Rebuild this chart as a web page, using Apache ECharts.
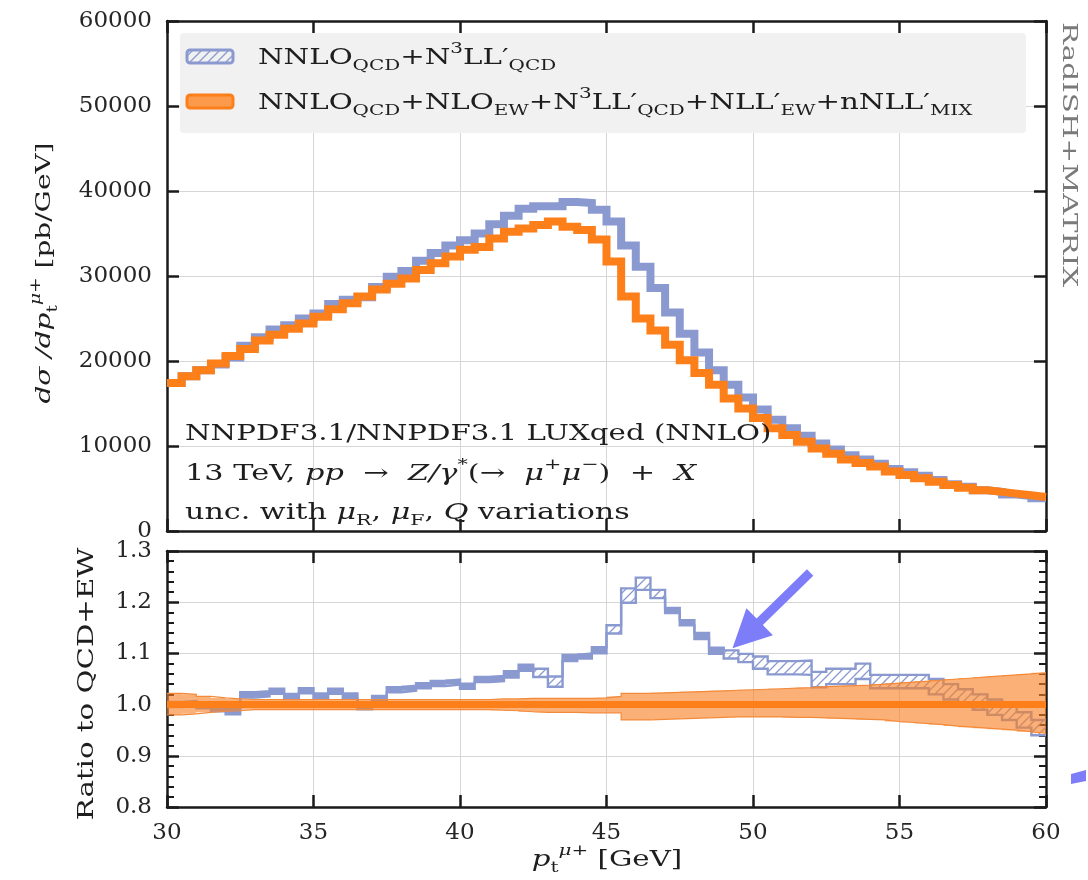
<!DOCTYPE html>
<html>
<head>
<meta charset="utf-8">
<title>pt mu+ spectrum</title>
<script src="https://cdn.jsdelivr.net/npm/echarts@6.0.0/dist/echarts.min.js"></script>
<style>
html,body{margin:0;padding:0;background:#ffffff;}
#chart{width:1088px;height:880px;}
</style>
</head>
<body>
<div id="chart"></div>
<script>
// ---------------- data ----------------
const binEdges = [30,30.5,31,31.5,32,32.5,33,33.5,34,34.5,35,35.5,36,36.5,37,37.5,38,38.5,39,39.5,40,40.5,41,41.5,42,42.5,43,43.5,44,44.5,45,45.5,46,46.5,47,47.5,48,48.5,49,49.5,50,50.5,51,51.5,52,52.5,53,53.5,54,54.5,55,55.5,56,56.5,57,57.5,58,58.5,59,59.5,60];

const xTickValues = [30,35,40,45,50,55,60];
const yTickValuesTop = [0,10000,20000,30000,40000,50000,60000];
const yTickLabelsTop = ['0','10000','20000','30000','40000','50000','60000'];
const yTickValuesRatio = [0.8,0.9,1.0,1.1,1.2,1.3];
const yTickLabelsRatio = ['0.8','0.9','1.0','1.1','1.2','1.3'];

// NNLO_QCD+NLO_EW+N3LL'_QCD+NLL'_EW+nNLL'_MIX  (orange), pb/GeV
const qcdEw = [17400,18200,18900,19700,20600,21400,22400,23100,23800,24400,
               25200,26100,26800,27600,28400,29100,29700,30700,31500,32300,
               33100,33400,34400,35200,35600,36000,36400,35800,35400,34300,
               31700,27600,25000,23600,21900,20100,18600,17200,15600,14400,
               13300,12100,11300,10500,9700,9100,8400,8000,7600,7000,
               6600,6200,5800,5400,5100,4800,4600,4400,4200,4000];

// NNLO_QCD+N3LL'_QCD (blue), pb/GeV
const qcdOnly = [17400,18200,18900,19600,20400,21800,22800,23700,24200,25000,
                 25600,26700,27200,27500,28700,29900,30600,31800,32700,33600,
                 34200,35000,36100,37100,37900,38200,38200,38700,38600,37800,
                 36400,33600,31100,28600,25700,23200,21000,18900,17200,15700,
                 14300,13100,12100,11200,10300,9600,8900,8400,7900,7300,
                 6900,6500,6000,5500,5200,4800,4600,4300,4100,3850];

// ratio of blue to orange (lower panel) and its half-width
const ratioQcdOnly = [1.000,1.002,0.998,0.992,0.986,1.019,1.021,1.026,1.016,1.027,
                      1.017,1.026,1.017,0.996,1.012,1.029,1.032,1.037,1.041,1.044,
                      1.036,1.049,1.051,1.059,1.072,1.062,1.045,1.091,1.095,1.106,
                      1.147,1.213,1.236,1.216,1.184,1.160,1.134,1.105,1.098,1.091,
                      1.082,1.072,1.072,1.072,1.049,1.055,1.055,1.065,1.045,1.045,
                      1.045,1.045,1.035,1.025,1.015,1.005,0.995,0.985,0.970,0.955];
const ratioQcdOnlyErr = [0.005,0.005,0.005,0.005,0.005,0.005,0.005,0.005,0.005,0.005,
                         0.005,0.005,0.005,0.005,0.005,0.005,0.005,0.005,0.005,0.005,
                         0.005,0.005,0.005,0.006,0.006,0.008,0.010,0.006,0.005,0.006,
                         0.008,0.014,0.012,0.008,0.005,0.005,0.006,0.006,0.008,0.008,
                         0.012,0.013,0.013,0.014,0.015,0.015,0.015,0.015,0.013,0.013,
                         0.013,0.013,0.015,0.015,0.015,0.015,0.015,0.015,0.015,0.015];

// reference (orange) ratio and its uncertainty band
const ratioRef = [1,1,1,1,1,1,1,1,1,1, 1,1,1,1,1,1,1,1,1,1, 1,1,1,1,1,1,1,1,1,1,
                  1,1,1,1,1,1,1,1,1,1, 1,1,1,1,1,1,1,1,1,1, 1,1,1,1,1,1,1,1,1,1];
const ratioRefHi = [1.022,1.020,1.016,1.013,1.011,1.010,1.010,1.010,1.010,1.010,
                    1.010,1.010,1.010,1.010,1.010,1.010,1.010,1.010,1.010,1.010,
                    1.010,1.010,1.011,1.011,1.012,1.012,1.012,1.012,1.012,1.013,
                    1.016,1.022,1.022,1.023,1.024,1.025,1.026,1.027,1.028,1.029,
                    1.030,1.031,1.032,1.033,1.035,1.036,1.037,1.038,1.040,1.042,
                    1.044,1.046,1.048,1.050,1.052,1.054,1.056,1.058,1.060,1.062];
const ratioRefLo = [0.980,0.982,0.985,0.987,0.988,0.990,0.990,0.990,0.990,0.990,
                    0.990,0.990,0.990,0.990,0.990,0.990,0.990,0.990,0.990,0.990,
                    0.990,0.990,0.989,0.988,0.986,0.985,0.985,0.985,0.984,0.984,
                    0.984,0.970,0.970,0.971,0.972,0.973,0.974,0.975,0.976,0.976,
                    0.976,0.976,0.975,0.975,0.974,0.973,0.972,0.971,0.970,0.967,
                    0.965,0.963,0.961,0.958,0.956,0.954,0.952,0.950,0.947,0.944];

// annotation arrow (data coordinates of lower panel)
const arrowTail = [51.95, 1.258];
const arrowTip = [49.30, 1.110];

// ---------------- styling ----------------
const F = "'DejaVu Serif', 'Liberation Serif', serif";
const AX = '#1a1a1a';
const TXT = '#1e1e1e';
const BLUE = '#8a9ad0';
const ORANGE = '#fd7f1a';
const SX = 1.33;

const chart = echarts.init(document.getElementById('chart'), null, {renderer: 'canvas'});

function stepPairs(vals) {
  const out = vals.map((v, i) => [binEdges[i], v]);
  out.push([binEdges[binEdges.length - 1], vals[vals.length - 1]]);
  return out;
}

// hatch pattern
const hatch = document.createElement('canvas');
hatch.width = 9; hatch.height = 9;
(function () {
  const c = hatch.getContext('2d');
  c.strokeStyle = BLUE; c.lineWidth = 1.3;
  c.beginPath();
  c.moveTo(0, 9); c.lineTo(9, 0);
  c.moveTo(-4.5, 4.5); c.lineTo(4.5, -4.5);
  c.moveTo(4.5, 13.5); c.lineTo(13.5, 4.5);
  c.stroke();
})();
const hatchFill = {image: hatch, repeat: 'repeat'};

function bandSeries(lo, hi, xi, yi, style, z) {
  return {
    type: 'custom', xAxisIndex: xi, yAxisIndex: yi, z: z, silent: true, clip: true,
    data: [[binEdges[0], lo[0]]],
    renderItem: function (params, api) {
      const pts = [];
      for (let i = 0; i < hi.length; i++) {
        pts.push(api.coord([binEdges[i], hi[i]]));
        pts.push(api.coord([binEdges[i + 1], hi[i]]));
      }
      for (let i = lo.length - 1; i >= 0; i--) {
        pts.push(api.coord([binEdges[i + 1], lo[i]]));
        pts.push(api.coord([binEdges[i], lo[i]]));
      }
      return {type: 'polygon', shape: {points: pts}, style: style};
    }
  };
}

// per-bin band: solid where narrow, hatched where wide
function binBandSeries(center, err, xi, yi, z) {
  return {
    type: 'custom', xAxisIndex: xi, yAxisIndex: yi, z: z, silent: true, clip: true,
    data: center.map((c, i) => [binEdges[i], binEdges[i + 1], c - err[i], c + err[i], err[i]]),
    encode: {x: [0, 1], y: [2, 3]},
    renderItem: function (params, api) {
      const a = api.coord([api.value(0), api.value(3)]);
      const b = api.coord([api.value(1), api.value(2)]);
      const narrow = api.value(4) <= 0.0065;
      return {type: 'rect', shape: {x: a[0] - 0.3, y: a[1], width: b[0] - a[0] + 0.6, height: b[1] - a[1]},
              style: {fill: narrow ? BLUE : hatchFill}};
    }
  };
}

function stepLine(vals, xi, yi, color, width, z) {
  return {
    type: 'line', xAxisIndex: xi, yAxisIndex: yi, z: z, step: 'end',
    data: stepPairs(vals), showSymbol: false, symbol: 'none', silent: true, clip: true,
    lineStyle: {color: color, width: width, join: 'miter', cap: 'butt'},
    emphasis: {disabled: true}
  };
}

const blueHi = ratioQcdOnly.map((v, i) => v + ratioQcdOnlyErr[i]);
const blueLo = ratioQcdOnly.map((v, i) => v - ratioQcdOnlyErr[i]);

const labelStyle = {show: true, fontFamily: F, fontSize: 23, color: '#262626', margin: 15};
const lineSty = {show: true, onZero: false, lineStyle: {color: AX, width: 2.5}};
const tickSty = {show: true, inside: true, length: 12, lineStyle: {color: AX, width: 2.5}};
const splitSty = {show: true, lineStyle: {color: '#d6d6d6', width: 1}};

const xBase = {type: 'value', min: xTickValues[0], max: xTickValues[xTickValues.length - 1],
               interval: xTickValues[1] - xTickValues[0]};
const yTopBase = {type: 'value', min: yTickValuesTop[0], max: yTickValuesTop[yTickValuesTop.length - 1],
                  interval: yTickValuesTop[1] - yTickValuesTop[0]};
const yRatBase = {type: 'value', min: yTickValuesRatio[0], max: yTickValuesRatio[yTickValuesRatio.length - 1],
                  interval: 0.1};
const minorSty = {show: true, splitNumber: 5, length: 7, lineStyle: {color: AX, width: 2}};
function lookupFmt(vals, labels) {
  return v => {
    const k = vals.findIndex(t => Math.abs(t - v) < 1e-6 * Math.max(1, Math.abs(t)));
    return k >= 0 ? labels[k] : '';
  };
}
const xFmt = v => String(v);

const option = {
  animation: false,
  backgroundColor: '#ffffff',
  grid: [
    {left: 167, top: 21, width: 879, height: 510, containLabel: false},
    {left: 167, top: 551, width: 879, height: 256, containLabel: false}
  ],
  xAxis: [
    Object.assign({}, xBase, {gridIndex: 0, position: 'bottom', axisLine: lineSty, axisTick: tickSty,
      axisLabel: {show: false}, splitLine: splitSty}),
    Object.assign({}, xBase, {gridIndex: 0, position: 'top', axisLine: lineSty, axisTick: tickSty,
      axisLabel: {show: false}, splitLine: {show: false}}),
    Object.assign({}, xBase, {gridIndex: 1, position: 'bottom', axisLine: lineSty, axisTick: tickSty,
      axisLabel: Object.assign({}, labelStyle, {formatter: xFmt}), splitLine: splitSty}),
    Object.assign({}, xBase, {gridIndex: 1, position: 'top', axisLine: lineSty, axisTick: tickSty,
      axisLabel: {show: false}, splitLine: {show: false}})
  ],
  yAxis: [
    Object.assign({}, yTopBase, {gridIndex: 0, position: 'left', axisLine: lineSty, axisTick: tickSty,
      axisLabel: Object.assign({}, labelStyle, {formatter: lookupFmt(yTickValuesTop, yTickLabelsTop)}),
      splitLine: splitSty}),
    Object.assign({}, yTopBase, {gridIndex: 0, position: 'right', axisLine: lineSty, axisTick: tickSty,
      axisLabel: {show: false}, splitLine: {show: false}}),
    Object.assign({}, yRatBase, {gridIndex: 1, position: 'left', axisLine: lineSty, axisTick: tickSty,
      minorTick: minorSty, axisLabel: Object.assign({}, labelStyle, {formatter: lookupFmt(yTickValuesRatio, yTickLabelsRatio)}),
      splitLine: splitSty}),
    Object.assign({}, yRatBase, {gridIndex: 1, position: 'right', axisLine: lineSty, axisTick: tickSty,
      minorTick: minorSty, axisLabel: {show: false}, splitLine: {show: false}})
  ],
  series: [
    // upper panel
    stepLine(qcdOnly, 0, 0, BLUE, 8, 3),
    stepLine(qcdEw, 0, 0, ORANGE, 8, 4),
    // lower panel
    binBandSeries(ratioQcdOnly, ratioQcdOnlyErr, 2, 2, 2),
    stepLine(blueHi, 2, 2, BLUE, 2.4, 3),
    stepLine(blueLo, 2, 2, BLUE, 2.4, 3),
    bandSeries(ratioRefLo, ratioRefHi, 2, 2, {fill: 'rgba(248,128,36,0.62)'}, 4),
    stepLine(ratioRefHi, 2, 2, '#f38a3a', 1.2, 4),
    stepLine(ratioRefLo, 2, 2, '#f38a3a', 1.2, 4),
    stepLine(ratioRef, 2, 2, ORANGE, 7, 5)
  ]
};
chart.setOption(option);

// ---------------- text and annotations ----------------
function richStyles(size, sub, fill) {
  const c = fill || TXT;
  return {
    m:  {fontFamily: F, fontSize: size, fill: c, lineHeight: size + 10},
    i:  {fontFamily: F, fontSize: size, fontStyle: 'italic', fill: c, lineHeight: size + 10},
    sb: {fontFamily: F, fontSize: sub, fill: c, lineHeight: sub, verticalAlign: 'bottom'},
    sp: {fontFamily: F, fontSize: sub, fill: c, lineHeight: sub, verticalAlign: 'top'},
    isp:{fontFamily: F, fontSize: sub, fontStyle: 'italic', fill: c, lineHeight: sub, verticalAlign: 'top'}
  };
}
function textEl(id, x, y, text, o) {
  o = o || {};
  const size = o.size || 22, sub = o.sub || 15;
  return {
    type: 'text', id: id, x: x, y: y, rotation: o.rotation || 0, scaleX: o.scaleX || SX,
    z: 100, silent: true,
    style: {text: text, rich: richStyles(size, sub, o.fill), align: o.align || 'left', verticalAlign: 'middle',
            fontFamily: F, fontSize: size, fill: o.fill || TXT}
  };
}

const graphics = [
  {type: 'rect', id: 'legbg', z: 90, silent: true, shape: {x: 180, y: 33, width: 846, height: 100, r: 4},
   style: {fill: '#f1f1f1'}},
  {type: 'rect', id: 'sw1', z: 95, silent: true, shape: {x: 187, y: 50, width: 46, height: 13, r: 3},
   style: {fill: hatchFill, stroke: BLUE, lineWidth: 3}},
  {type: 'rect', id: 'sw2', z: 95, silent: true, shape: {x: 187, y: 95, width: 46, height: 13, r: 3},
   style: {fill: '#fb9a4b', stroke: ORANGE, lineWidth: 3}},
  textEl('leg1', 258, 58, '{m|NNLO}{sb|QCD}{m|+N}{sp|3}{m|LL′}{sb|QCD}'),
  textEl('leg2', 258, 103, '{m|NNLO}{sb|QCD}{m|+NLO}{sb|EW}{m|+N}{sp|3}{m|LL′}{sb|QCD}{m|+NLL′}{sb|EW}{m|+nNLL′}{sb|MIX}'),
  textEl('info1', 185, 434, '{m|NNPDF3.1/NNPDF3.1 LUXqed (NNLO)}'),
  textEl('info2', 185, 474, '{m|13 TeV, }{i|pp}{m|  →  }{i|Z/γ}{sp|*}{m|(→  }{i|μ}{sp|+}{i|μ}{sp|−}{m|)  +  }{i|X}', {scaleX: 1.38}),
  textEl('info3', 185, 513, '{m|unc. with }{i|μ}{sb|R}{m|, }{i|μ}{sb|F}{m|, }{i|Q}{m| variations}', {scaleX: 1.37}),
  textEl('ytop', 45, 273, '{i|dσ /dp}{sb|t}{isp|μ+}{m| [pb/GeV]}', {rotation: Math.PI / 2, align: 'center', size: 21, sub: 14}),
  textEl('yrat', 87, 684, '{m|Ratio to QCD+EW}', {rotation: Math.PI / 2, align: 'center', size: 22}),
  textEl('xlab', 607, 860, '{i|p}{sb|t}{isp|μ+}{m| [GeV]}', {align: 'center', size: 22}),
  textEl('side', 1068, 22, '{m|RadISH+MATRIX}', {rotation: -Math.PI / 2, align: 'left', size: 20, fill: '#7a7a7a', scaleX: 1.47}),
  {type: 'polygon', id: 'frag', z: 100, silent: true,
   shape: {points: [[1071, 774], [1086, 770], [1086, 781], [1071, 784]]}, style: {fill: '#7d7dfa'}}
];

// arrow placed via the lower panel's coordinate system
const pTail = chart.convertToPixel({gridIndex: 1}, arrowTail);
const pTip = chart.convertToPixel({gridIndex: 1}, arrowTip);
(function () {
  const dx = pTip[0] - pTail[0], dy = pTip[1] - pTail[1];
  const L = Math.hypot(dx, dy), ux = dx / L, uy = dy / L, nx = -uy, ny = ux;
  const headLen = 38, headHalf = 19, shaftHalf = 4.5;
  const bx = pTip[0] - ux * headLen, by = pTip[1] - uy * headLen;
  graphics.push({type: 'polygon', id: 'arrow', z: 100, silent: true,
    shape: {points: [
      [pTail[0] + nx * shaftHalf, pTail[1] + ny * shaftHalf],
      [bx + nx * shaftHalf, by + ny * shaftHalf],
      [bx + nx * headHalf, by + ny * headHalf],
      [pTip[0], pTip[1]],
      [bx - nx * headHalf, by - ny * headHalf],
      [bx - nx * shaftHalf, by - ny * shaftHalf],
      [pTail[0] - nx * shaftHalf, pTail[1] - ny * shaftHalf]
    ]},
    style: {fill: '#7d7dfa'}});
})();

chart.setOption({graphic: graphics});
</script>
</body>
</html>
